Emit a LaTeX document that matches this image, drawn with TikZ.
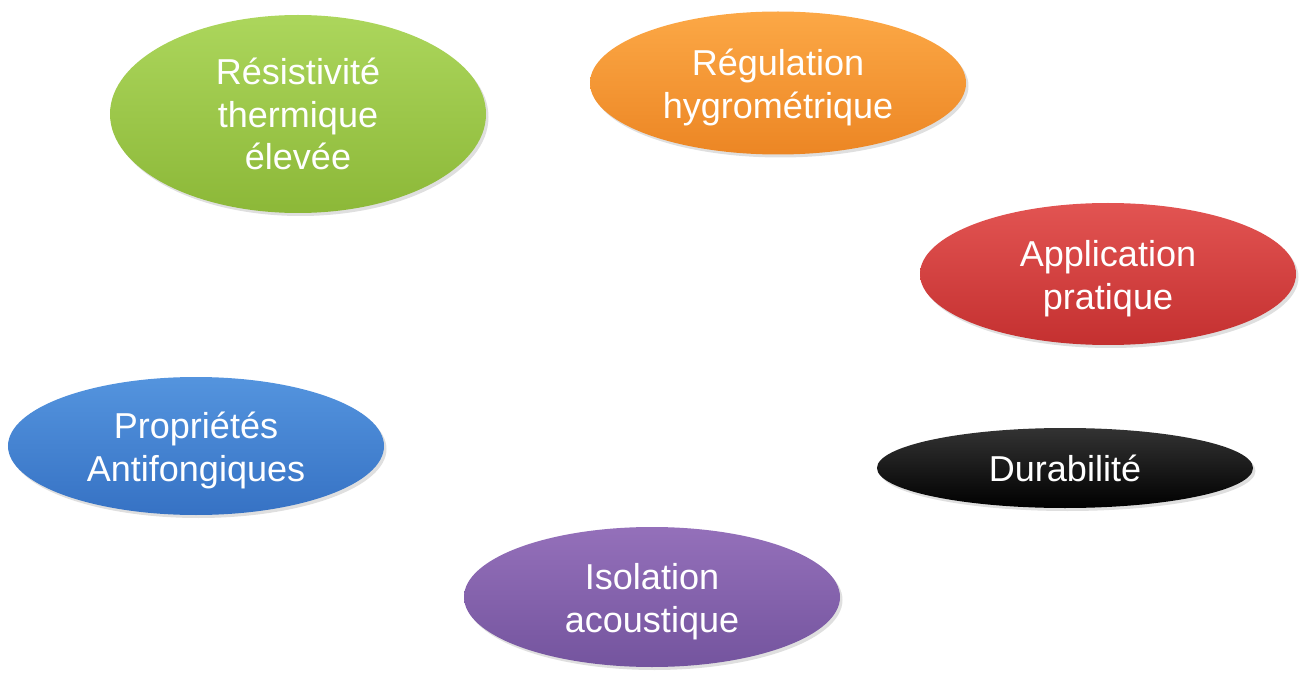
\documentclass[tikz,border=0pt]{standalone}
\usepackage{fontspec}
\setmainfont{Liberation Sans}
\usetikzlibrary{shapes.geometric,shadows}

\definecolor{vertH}{RGB}{172,214,92}
\definecolor{vertB}{RGB}{140,184,56}
\definecolor{orangeH}{RGB}{252,168,70}
\definecolor{orangeB}{RGB}{236,134,36}
\definecolor{rougeH}{RGB}{226,84,82}
\definecolor{rougeB}{RGB}{196,48,48}
\definecolor{bleuH}{RGB}{84,148,222}
\definecolor{bleuB}{RGB}{54,114,196}
\definecolor{violetH}{RGB}{148,112,186}
\definecolor{violetB}{RGB}{116,84,158}

\tikzset{
  bulle/.style={ellipse, inner sep=0pt, minimum width=7.52cm,
    text=white, align=center, font=\fontsize{20.5}{24}\selectfont,
    drop shadow={opacity=0.25, shadow xshift=0.05cm, shadow yshift=-0.06cm}},
  bas/.style={text height=45pt, text depth=5pt}
}

\begin{document}
\begin{tikzpicture}
    \useasboundingbox (0,0) rectangle (26.06,13.5);

    % Bulles du haut
    \node[bulle, minimum height=3.96cm, top color=vertH, bottom color=vertB]
        (resistivite) at (5.96,11.22) {Résistivité\\thermique\\élevée};
    \node[bulle, bas, minimum height=2.86cm, top color=orangeH, bottom color=orangeB]
        (regulation) at (15.56,11.84) {Régulation\\hygrométrique};

    % Bulles de droite
    \node[bulle, bas, minimum height=2.84cm, top color=rougeH, bottom color=rougeB]
        (application) at (22.16,8.02) {Application\\pratique};
    \node[bulle, minimum height=1.6cm, top color=black!80, bottom color=black]
        (durabilite) at (21.3,4.14) {Durabilité};

    % Bulles du bas et de gauche
    \node[bulle, bas, minimum height=2.76cm, top color=bleuH, bottom color=bleuB]
        (proprietes) at (3.92,4.58) {Propriétés\\Antifongiques};
    \node[bulle, bas, minimum height=2.8cm, top color=violetH, bottom color=violetB]
        (isolation) at (13.04,1.56) {Isolation\\acoustique};
\end{tikzpicture}
\end{document}
